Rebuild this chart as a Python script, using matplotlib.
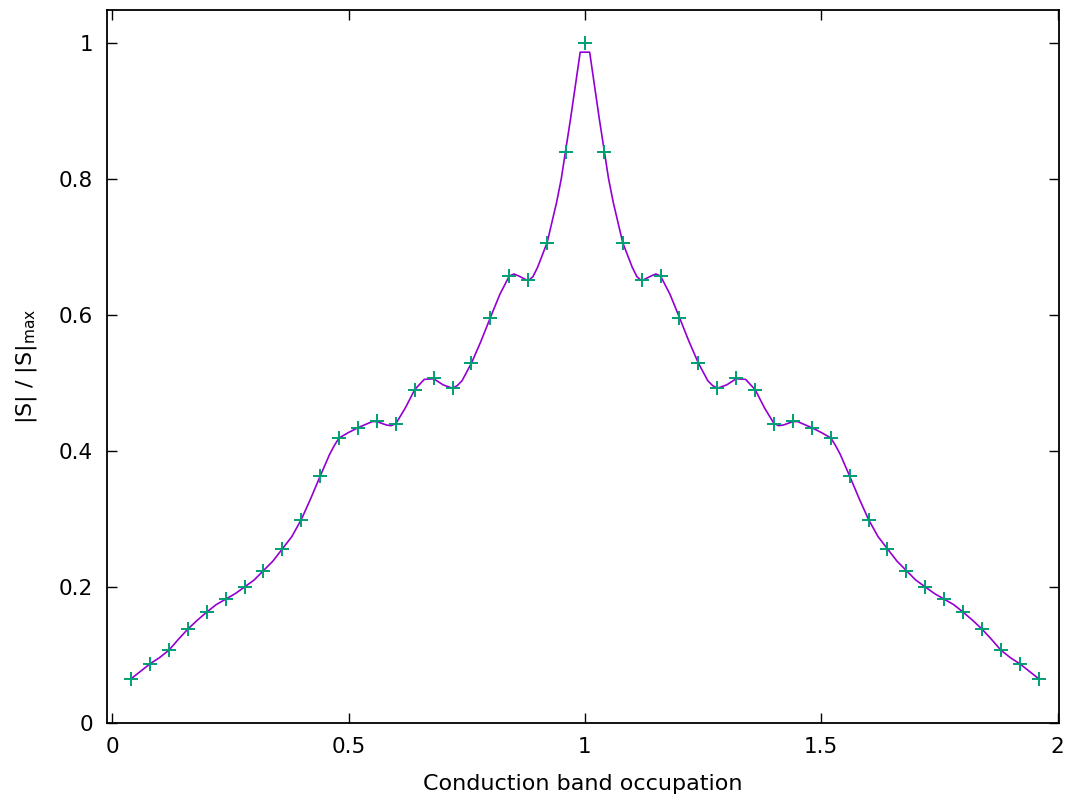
import matplotlib
matplotlib.use('Agg')
import matplotlib.pyplot as plt

# sampled points (markers)
occ = [0.04, 0.08, 0.12, 0.16, 0.20, 0.24, 0.28, 0.32, 0.36, 0.40,
       0.44, 0.48, 0.52, 0.56, 0.60, 0.64, 0.68, 0.72, 0.76, 0.80,
       0.84, 0.88, 0.92, 0.96, 1.00, 1.04, 1.08, 1.12, 1.16, 1.20,
       1.24, 1.28, 1.32, 1.36, 1.40, 1.44, 1.48, 1.52, 1.56, 1.60,
       1.64, 1.68, 1.72, 1.76, 1.80, 1.84, 1.88, 1.92, 1.96]
s_pts = [0.065, 0.087, 0.107, 0.138, 0.163, 0.182, 0.200, 0.224, 0.256, 0.299,
         0.363, 0.419, 0.434, 0.444, 0.440, 0.490, 0.507, 0.493, 0.529, 0.596,
         0.657, 0.651, 0.706, 0.840, 1.000, 0.840, 0.706, 0.651, 0.657, 0.596,
         0.529, 0.493, 0.507, 0.490, 0.440, 0.444, 0.434, 0.419, 0.363, 0.299,
         0.256, 0.224, 0.200, 0.182, 0.163, 0.138, 0.107, 0.087, 0.065]

# finer curve (line)
occ_line = [0.04, 0.06, 0.08, 0.10, 0.12, 0.14, 0.16, 0.18, 0.20, 0.22,
            0.24, 0.26, 0.28, 0.30, 0.32, 0.34, 0.36, 0.38, 0.40, 0.42,
            0.44, 0.46, 0.47, 0.48, 0.50, 0.52, 0.54, 0.55, 0.56, 0.58,
            0.59, 0.60, 0.62, 0.64, 0.66, 0.68, 0.70, 0.72, 0.73, 0.74,
            0.76, 0.78, 0.80, 0.82, 0.84, 0.85, 0.86, 0.88, 0.89, 0.90,
            0.92, 0.94, 0.95, 0.97, 0.99,
            1.01, 1.03, 1.05, 1.06, 1.08, 1.10, 1.11, 1.12, 1.14, 1.15,
            1.16, 1.18, 1.20, 1.22, 1.24, 1.26, 1.27, 1.28, 1.30, 1.32,
            1.34, 1.36, 1.38, 1.40, 1.41, 1.42, 1.44, 1.45, 1.46, 1.48,
            1.50, 1.52, 1.53, 1.54, 1.56, 1.58, 1.60, 1.62, 1.64, 1.66,
            1.68, 1.70, 1.72, 1.74, 1.76, 1.78, 1.80, 1.82, 1.84, 1.86,
            1.88, 1.90, 1.92, 1.94, 1.96]
s_line = [0.065, 0.076, 0.087, 0.096, 0.107, 0.123, 0.138, 0.151, 0.163, 0.174,
          0.182, 0.190, 0.200, 0.210, 0.224, 0.238, 0.256, 0.274, 0.299, 0.330,
          0.363, 0.395, 0.408, 0.419, 0.427, 0.434, 0.440, 0.443, 0.443, 0.438,
          0.437, 0.440, 0.463, 0.490, 0.505, 0.506, 0.497, 0.492, 0.496, 0.503,
          0.529, 0.561, 0.596, 0.630, 0.657, 0.660, 0.657, 0.650, 0.656, 0.670,
          0.706, 0.765, 0.800, 0.890, 0.986,
          0.986, 0.890, 0.800, 0.765, 0.706, 0.670, 0.656, 0.650, 0.657, 0.660,
          0.657, 0.630, 0.596, 0.561, 0.529, 0.503, 0.496, 0.492, 0.497, 0.506,
          0.505, 0.490, 0.463, 0.440, 0.437, 0.438, 0.443, 0.443, 0.440, 0.434,
          0.427, 0.419, 0.408, 0.395, 0.363, 0.330, 0.299, 0.274, 0.256, 0.238,
          0.224, 0.210, 0.200, 0.190, 0.182, 0.174, 0.163, 0.151, 0.138, 0.123,
          0.107, 0.096, 0.087, 0.076, 0.065]

fig = plt.figure(figsize=(10.69, 8.06), dpi=100)
ax = fig.add_axes([0.1001, 0.103, 0.8906, 0.8846])

ax.plot(occ_line, s_line, color='#9400D3', lw=1.2)
ax.plot(occ, s_pts, '+', color='#009E73', ms=10, mew=1.4)

ax.set_xlim(-0.011, 2.003)
ax.set_ylim(0, 1.048)
ax.set_xticks([0, 0.5, 1, 1.5, 2])
ax.set_xticklabels(['0', '0.5', '1', '1.5', '2'])
ax.set_yticks([0, 0.2, 0.4, 0.6, 0.8, 1])
ax.set_yticklabels(['0', '0.2', '0.4', '0.6', '0.8', '1'])
ax.tick_params(direction='in', length=7, width=1, labelsize=15.5,
               top=True, right=True, pad=10)
for sp in ax.spines.values():
    sp.set_linewidth(1.3)

ax.set_xlabel('Conduction band occupation', fontsize=16, labelpad=12)
ax.set_ylabel(r'|S| / |S|$_\mathregular{max}$', fontsize=16, labelpad=14)

plt.savefig('out.png', dpi=100)
